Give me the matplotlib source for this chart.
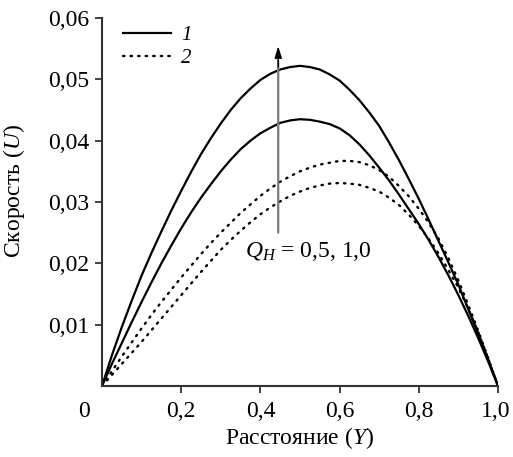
import numpy as np
import matplotlib
matplotlib.use('Agg')
import matplotlib.pyplot as plt

plt.rcParams['font.family'] = ['Liberation Serif', 'DejaVu Serif']
plt.rcParams['mathtext.fontset'] = 'custom'
plt.rcParams['mathtext.rm'] = 'Liberation Serif'
plt.rcParams['mathtext.it'] = 'Liberation Serif:italic'

# distance Y, read every 0.025
y_pos = np.arange(41) * 0.025

# curve 1 (solid): Q_H = 1.0 (upper) and 0.5 (lower)
solid_q10 = [0, 0.0050, 0.0096, 0.0139, 0.0180, 0.0217, 0.0252, 0.0286, 0.0318, 0.0349,
             0.0378, 0.0404, 0.0428, 0.0450, 0.0469, 0.0485, 0.0499, 0.0509, 0.0516, 0.0520,
             0.0522, 0.0520, 0.0516, 0.0508, 0.0498, 0.0483, 0.0466, 0.0446, 0.0424, 0.0397,
             0.0368, 0.0337, 0.0305, 0.0271, 0.0236, 0.0201, 0.0165, 0.0125, 0.0085, 0.0043, 0]
solid_q05 = [0, 0.0036, 0.0070, 0.0104, 0.0137, 0.0169, 0.0200, 0.0229, 0.0257, 0.0283,
             0.0307, 0.0329, 0.0350, 0.0369, 0.0386, 0.0400, 0.0412, 0.0421, 0.0429, 0.0433,
             0.0435, 0.0434, 0.0431, 0.0427, 0.0420, 0.0409, 0.0394, 0.0376, 0.0356, 0.0335,
             0.0312, 0.0288, 0.0264, 0.0238, 0.0210, 0.0180, 0.0148, 0.0114, 0.0078, 0.0040, 0]

# curve 2 (dotted): Q_H = 1.0 (upper) and 0.5 (lower)
dot_q10 = [0, 0.0024, 0.0048, 0.0071, 0.0094, 0.0116, 0.0137, 0.0157, 0.0177, 0.0196,
           0.0215, 0.0233, 0.0250, 0.0266, 0.0282, 0.0296, 0.0310, 0.0322, 0.0333, 0.0342,
           0.0350, 0.0356, 0.0361, 0.0364, 0.0367, 0.0367, 0.0365, 0.0360, 0.0352, 0.0341,
           0.0326, 0.0309, 0.0289, 0.0266, 0.0240, 0.0208, 0.0172, 0.0132, 0.0090, 0.0046, 0]
dot_q05 = [0, 0.0018, 0.0036, 0.0054, 0.0072, 0.0091, 0.0110, 0.0129, 0.0148, 0.0167,
           0.0186, 0.0204, 0.0222, 0.0238, 0.0253, 0.0267, 0.0280, 0.0291, 0.0301, 0.0310,
           0.0317, 0.0323, 0.0327, 0.0330, 0.0331, 0.0330, 0.0328, 0.0323, 0.0317, 0.0307,
           0.0295, 0.0279, 0.0261, 0.0240, 0.0216, 0.0189, 0.0160, 0.0126, 0.0088, 0.0045, 0]

x_ticks = [0.2, 0.4, 0.6, 0.8, 1.0]
y_ticks = [0.01, 0.02, 0.03, 0.04, 0.05, 0.06]

def comma(v, nd):
	return ('%.*f' % (nd, v)).replace('.', ',')

FS = 17

fig = plt.figure(figsize=(5.13, 4.57), dpi=100)
ax = fig.add_axes([0.1988, 0.1554, 0.772, 0.8052])

dots = (0, (0.6, 2.6))
l1, = ax.plot(y_pos, solid_q10, color='black', lw=1.6)
ax.plot(y_pos, solid_q05, color='black', lw=1.6)
l2, = ax.plot(y_pos, dot_q10, color='black', lw=1.7, linestyle=dots, dash_capstyle='round')
ax.plot(y_pos, dot_q05, color='black', lw=1.7, linestyle=dots, dash_capstyle='round')

ax.set_xlim(0, 1)
ax.set_ylim(0, 0.06)
ax.set_xticks(x_ticks)
# last label is drawn separately, nudged so it stays inside the picture
ax.set_xticklabels([comma(v, 1) for v in x_ticks[:-1]] + [''])
ax.set_yticks(y_ticks)
ax.set_yticklabels([comma(v, 2) for v in y_ticks])
ax.tick_params(direction='out', length=5, width=1.3, labelsize=FS, color='#333333')
ax.tick_params(axis='x', pad=6)
ax.tick_params(axis='y', pad=4)

for s in ['top', 'right']:
	ax.spines[s].set_visible(False)
for s in ['left', 'bottom']:
	ax.spines[s].set_linewidth(1.5)
	ax.spines[s].set_color('#333333')

# the corner zero and the end label
ax.annotate('0', xy=(0, 0), xycoords='axes fraction', xytext=(-13, -11),
	textcoords='offset points', ha='center', va='top', fontsize=FS)
ax.annotate(comma(x_ticks[-1], 1), xy=(x_ticks[-1], 0), xycoords=('data', 'axes fraction'),
	xytext=(-1.5, -11), textcoords='offset points', ha='center', va='top', fontsize=FS)

ax.set_xlabel('Расстояние ($Y$)', fontsize=FS, labelpad=2)
ax.set_ylabel('Скорость ($U$)', fontsize=FS)
ax.yaxis.set_label_coords(-0.19, 0.53)

# arrow for increasing Q_H
ax.annotate('', xy=(0.445, 0.0530), xytext=(0.445, 0.0250),
	arrowprops=dict(arrowstyle='-', color='#7a7a7a', lw=1.6, shrinkA=0, shrinkB=0))
ax.annotate('', xy=(0.445, 0.0554), xytext=(0.445, 0.0520),
	arrowprops=dict(arrowstyle='-|>,head_length=0.7,head_width=0.22', color='black',
		lw=1.0, shrinkA=0, shrinkB=0))
ax.text(0.36, 0.0219, '$Q_H$ = 0,5, 1,0', fontsize=FS, ha='left', va='center')

leg = ax.legend([l1, l2], ['1', '2'], loc='upper left', bbox_to_anchor=(0.005, 1.03),
	frameon=False, prop={'size': 15, 'style': 'italic'}, handlelength=2.3,
	handletextpad=0.5, labelspacing=0.15)

fig.savefig('out.png', dpi=100)
